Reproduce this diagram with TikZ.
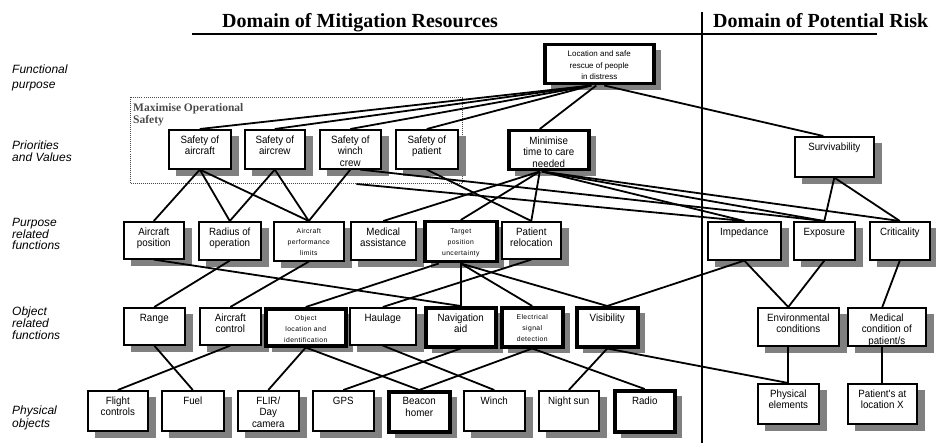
\documentclass[tikz,border=0pt]{standalone}
\usepackage{fontspec}
\setmainfont{Liberation Serif}
\newfontfamily\arialf{Liberation Sans}
\newfontfamily\arialn[FakeStretch=0.93]{Liberation Sans}
\newfontfamily\arials[LetterSpace=6]{Liberation Sans}
\usetikzlibrary{calc}
\definecolor{groupgray}{RGB}{75,75,75}
\newcommand\nbx{\vspace*{6pt}\arialn\fontsize{10.5}{11.5}\selectfont}
\newcommand\sbx{\vspace*{7pt}\arials\fontsize{6.8}{10.8}\selectfont}
\newcommand\tbx{\vspace*{6pt}\arialf\fontsize{8}{11.5}\selectfont}
\newcommand\bxn[7]{%
  \draw[boxshadow, line width={(#5+1)*1pt}] ({#2+8},{#3+7+(#5+1)/2}) -- ++({#4+1},0);
  \node[box,#6] (#1) at (#2,#3) {\parbox[c][#5pt][t]{#4pt}{\centering#7}};}
\tikzset{
  boxshadow/.style={draw=black!50, line cap=butt},
  box/.style={draw=black, fill=white, line width=1.6pt, inner sep=0pt, anchor=north west},
  heavy/.style={line width=3.5pt},
  link/.style={draw=black, line width=1.8pt},
  sidelabel/.style={anchor=north west, inner sep=0pt, align=left},
  header/.style={anchor=base west, inner sep=0pt, font=\bfseries\fontsize{20}{24}\selectfont},
  grp/.style={draw=groupgray, dash pattern=on 1pt off 1pt, line width=1pt, inner sep=0pt,
    anchor=north west, minimum width=332pt, minimum height=86pt},
}
\begin{document}
\begin{tikzpicture}[x=1pt,y=-1pt]
\fill[white] (0,0) rectangle (936,443);
\useasboundingbox (0,0) rectangle (936,443);

% headers
\node[header] (h1) at (222,28) {Domain of Mitigation Resources};
\node[header] (h2) at (713,28) {Domain of Potential Risk};
\draw[line width=1.5pt] (192,34) -- (877,34);
\draw[line width=2pt] (702,12) -- (702,443);

% side labels
\node[sidelabel, font=\arialf\itshape\fontsize{12}{15}\selectfont] (l1) at (12,65) {Functional\\purpose};
\node[sidelabel, font=\arialf\itshape\fontsize{12}{12}\selectfont] (l2) at (12,141) {Priorities\\and Values};
\node[sidelabel, font=\arialf\itshape\fontsize{12}{11.7}\selectfont] (l3) at (12,218) {Purpose\\related\\functions};
\node[sidelabel, font=\arialf\itshape\fontsize{12}{11.7}\selectfont] (l4) at (12,307) {Object\\related\\functions};
\node[sidelabel, font=\arialf\itshape\fontsize{12}{10.5}\selectfont] (l5) at (12,406) {Physical\\objects};

% group box
\node[grp] (mos) at (130,97) {};
\node[anchor=north west, inner sep=0pt, align=left, text=groupgray,
  font=\bfseries\fontsize{11.5}{12}\selectfont] (moslab) at (133,103) {Maximise Operational\\Safety};

% functional purpose
\bxn{top}{543}{43}{109}{39}{heavy}{\tbx Location and safe\\rescue of people\\in distress}
% priorities and values
\bxn{sa}{168}{129}{62}{39}{}{\nbx Safety of\\aircraft}
\bxn{sc}{244}{129}{60}{39}{}{\nbx Safety of\\aircrew}
\bxn{sw}{319}{129}{61}{39}{}{\nbx Safety of\\winch\\crew}
\bxn{sp}{395}{129}{62}{39}{}{\nbx Safety of\\patient}
\bxn{mt}{507}{129}{80}{39}{heavy}{\nbx Minimise\\time to care\\needed}
\bxn{sv}{794}{136}{79}{40}{}{\nbx Survivability}
% purpose related functions
\bxn{ap}{123}{221}{60}{37}{}{\nbx Aircraft\\position}
\bxn{rad}{198}{221}{62}{38}{}{\nbx Radius of\\operation}
\bxn{apl}{273}{221}{70}{39}{}{\sbx Aircraft\\performance\\limits}
\bxn{med}{350}{221}{65}{38}{}{\nbx Medical\\assistance}
\bxn{tpu}{423}{220}{72}{40}{heavy}{\sbx Target\\position\\uncertainty}
\bxn{prel}{501}{221}{59}{37}{}{\nbx Patient\\relocation}
\bxn{imp}{707}{221}{73}{38}{}{\nbx Impedance}
\bxn{ex}{793}{221}{61}{38}{}{\nbx Exposure}
\bxn{cr}{869}{221}{60}{38}{}{\nbx Criticality}
% object related functions
\bxn{rng}{123}{307}{61}{37}{}{\nbx Range}
\bxn{ac}{199}{307}{61}{37}{}{\nbx Aircraft\\control}
\bxn{ol}{264}{307}{80}{37}{heavy}{\sbx Object\\location and\\identification}
\bxn{hau}{349}{307}{66}{37}{}{\nbx Haulage}
\bxn{nav}{424}{306}{70}{39}{heavy}{\nbx Navigation\\aid}
\bxn{esd}{500}{306}{61}{39}{heavy}{\sbx Electrical\\signal\\detection}
\bxn{vis}{575}{306}{61}{39}{heavy}{\nbx Visibility}
\bxn{env}{757}{307}{81}{38}{}{\nbx Environmental\\conditions}
\bxn{mc}{847}{307}{78}{38}{}{\nbx Medical\\condition of\\patient/s}
% physical objects
\bxn{fc}{87}{390}{60}{40}{}{\nbx Flight\\controls}
\bxn{fuel}{161}{390}{62}{40}{}{\nbx Fuel}
\bxn{flir}{237}{390}{61}{40}{}{\nbx FLIR/\\Day\\camera}
\bxn{gps}{312}{390}{61}{40}{}{\nbx GPS}
\bxn{bh}{387}{390}{61}{40}{heavy}{\nbx Beacon\\homer}
\bxn{winch}{463}{390}{61}{40}{}{\nbx Winch}
\bxn{ns}{538}{390}{60}{40}{}{\nbx Night sun}
\bxn{radio}{613}{389}{60}{41}{heavy}{\nbx Radio}
\bxn{pe}{757}{383}{61}{40}{}{\nbx Physical\\elements}
\bxn{pt}{847}{383}{69}{40}{}{\nbx Patient's at\\location X}

% connectors: functional purpose -> priorities
\draw[link] ($(top.south)+(-8,0)$) -- (sa.north);
\draw[link] ($(top.south)+(-8,0)$) -- (sc.north);
\draw[link] ($(top.south)+(-8,0)$) -- (sw.north);
\draw[link] ($(top.south)+(-8,0)$) -- (sp.north);
\draw[link] ($(top.south)+(-3,0)$) -- ($(mt.north)+(-9,0)$);
\draw[link] ($(top.south)+(5,0)$) -- ($(sv.north)+(-11,0)$);

% priorities -> purpose functions
\draw[link] (sa.south) -- (ap.north);
\draw[link] (sa.south) -- (rad.north);
\draw[link] (sa.south) -- (apl.north);
\draw[link] (sc.south) -- (rad.north);
\draw[link] (sc.south) -- (apl.north);
\draw[link] (sw.south) -- (apl.north);
\draw[link] ($(sw.south)+(10,0)$) -- (ex.north);
\draw[link] ($(mos.south west)!0.68!(mos.south east)$) -- (imp.north);
\draw[link] (sp.south) -- (prel.north);
\draw[link] ($(mt.south)+(-9,0)$) -- (med.north);
\draw[link] ($(mt.south)+(-9,0)$) -- (tpu.north);
\draw[link] ($(mt.south)+(-9,0)$) -- (prel.north);
\draw[link] ($(mt.south)+(-7,0)$) -- (imp.north);
\draw[link] ($(mt.south)+(-7,0)$) -- (ex.north);
\draw[link] ($(mt.south)+(-7,0)$) -- (cr.north);
\draw[link] (sv.south) -- (ex.north);
\draw[link] (sv.south) -- (cr.north);

% purpose -> object functions
\draw[link] (ap.south) -- (nav.north);
\draw[link] (rad.south) -- (rng.north);
\draw[link] (apl.south) -- (ac.north);
\draw[link] ($(tpu.south)+(-22,0)$) -- (ol.north);
\draw[link] (tpu.south) -- (nav.north);
\draw[link] (tpu.south) -- (esd.north);
\draw[link] (tpu.south) -- (vis.north);
\draw[link] (prel.south) -- (hau.north);
\draw[link] (imp.south) -- (vis.north);
\draw[link] (imp.south) -- (env.north -| pe.north);
\draw[link] (ex.south) -- (env.north -| pe.north);
\draw[link] (cr.south) -- (mc.north -| pt.north);

% object -> physical
\draw[link] (rng.south) -- (fuel.north);
\draw[link] (ac.south) -- (fc.north);
\draw[link] (ol.south) -- (flir.north);
\draw[link] (ol.south) -- (bh.north);
\draw[link] (nav.south) -- (gps.north);
\draw[link] (hau.south) -- (winch.north);
\draw[link] (esd.south) -- (bh.north);
\draw[link] (esd.south) -- (radio.north);
\draw[link] (vis.south) -- (ns.north);
\draw[link] (vis.south) -- (pe.north);
\draw[link] (pe.north |- env.south) -- (pe.north);
\draw[link] (pt.north |- mc.south) -- (pt.north);
\end{tikzpicture}
\end{document}
